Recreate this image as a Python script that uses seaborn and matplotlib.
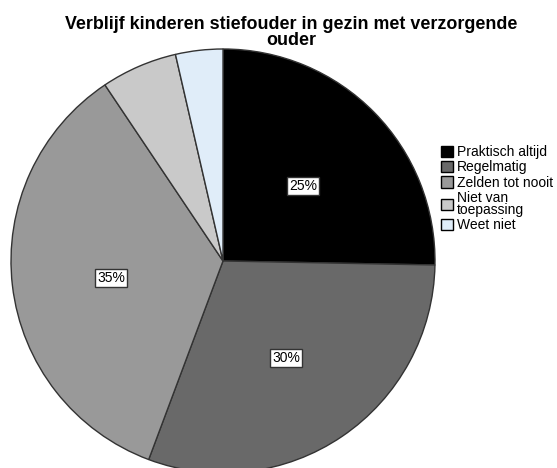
import matplotlib
matplotlib.use("Agg")
import matplotlib.pyplot as plt
import seaborn as sns

sns.set_style("white")
plt.rcParams['font.family'] = ['Liberation Sans', 'DejaVu Sans']
plt.rcParams['text.color'] = 'black'

categories = ["Praktisch altijd", "Regelmatig", "Zelden tot nooit", "Niet van\ntoepassing", "Weet niet"]
values = [25.3, 30.4, 34.9, 5.8, 3.6]
colors = ["#000000", "#696969", "#999999", "#c9c9c9", "#e0edf9"]
title = "Verblijf kinderen stiefouder in gezin met verzorgende\nouder"

W, H = 557, 468
fig = plt.figure(figsize=(W / 100, H / 100), dpi=100)
ax = fig.add_axes([0, 0, 1, 1])

def fmt(p):
    return "%.0f%%" % p if p >= 10 else ""

wedges, texts, autotexts = ax.pie(
    values, colors=colors, startangle=90, counterclock=False,
    center=(223, H - 261), radius=212, autopct=fmt, pctdistance=0.53,
    wedgeprops=dict(edgecolor="#333333", linewidth=1.0),
    textprops=dict(fontsize=10, color="black"),
    frame=True,
)
ax.set_xlim(0, W)
ax.set_ylim(0, H)
ax.axis("off")
for t in autotexts:
    x, y = t.get_position()
    t.set_position((x, y - 4))
    t.set_bbox(dict(facecolor="white", edgecolor="#333333", boxstyle="square,pad=0.15", linewidth=1))

fig.text(291 / W, 1 - 16 / H, title, ha="center", va="top", fontsize=12.9, fontweight="bold",
         linespacing=0.95, color="black")

leg = fig.legend(wedges, categories, loc="upper left", bbox_to_anchor=(441 / W, 1 - 145 / H),
                 frameon=False, fontsize=10, handlelength=0.85, handleheight=0.85,
                 handletextpad=0.3, labelspacing=0.1, borderpad=0, borderaxespad=0)
for h in leg.legend_handles:
    h.set_edgecolor("black")
    h.set_linewidth(1)
for t in leg.get_texts():
    t.set_color("black")
    t.set_linespacing(0.8)

fig.savefig("out.png", dpi=100)
